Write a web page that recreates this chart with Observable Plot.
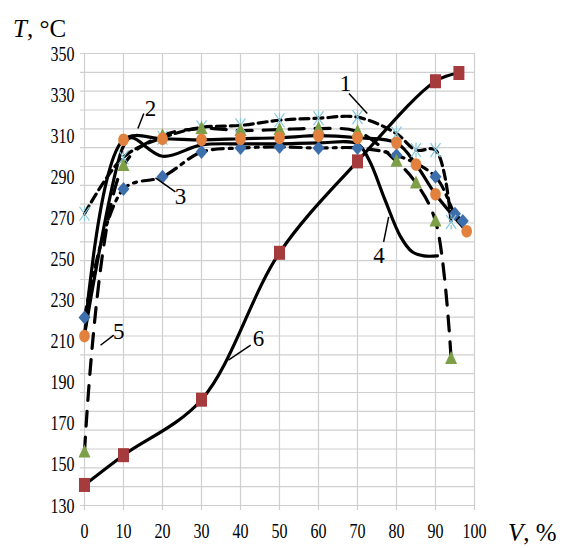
<!DOCTYPE html>
<html>
<head>
<meta charset="utf-8">
<script src="https://cdn.jsdelivr.net/npm/d3@7"></script>
<script src="https://cdn.jsdelivr.net/npm/@observablehq/plot@0.6"></script>
<style>
  body { margin: 0; background: #fff; }
  #chart { width: 562px; height: 548px; }
</style>
</head>
<body>
<div id="chart"></div>
<script>
// ---- axes ----
const xTicks = [0, 10, 20, 30, 40, 50, 60, 70, 80, 90, 100];
const yTicks = [130, 150, 170, 190, 210, 230, 250, 270, 290, 310, 330, 350];
const xDomain = [0, 100];
const yDomain = [130, 350];
const yGridCount = 24; // the reference draws 24 equal grid intervals

// ---- curve 1 (short dash, light-blue star markers) ----
const c1V = [0, 10, 20, 30, 40, 50, 60, 70, 80, 85, 90, 94];
const c1T = [272, 299.5, 309, 314, 315, 317.5, 318.5, 319, 311, 303, 303, 268];

// ---- curve 2 (solid, orange circles) ----
const c2V = [0, 10, 20, 30, 40, 50, 60, 70, 80, 85, 90, 98];
const c2T = [212.5, 308, 308.5, 308, 308.5, 309, 310, 309, 306.5, 296, 281.5, 263.5];

// ---- curve 3 (dash-dot, blue diamonds) ----
const c3V = [0, 10, 20, 30, 40, 50, 60, 70, 80, 90, 95, 97];
const c3T = [221.5, 284, 290, 302, 304, 304.5, 304, 304, 300.5, 290, 272, 268.5];

// ---- curve 4 (solid, no markers) ----
const c4V = [0, 10, 12, 20, 30, 40, 50, 60, 70, 73, 77, 81, 84, 87, 90.5];
const c4T = [213, 305, 309, 300, 305.5, 306, 306, 306.5, 306, 298, 279, 261, 253.5, 251.5, 251.5];

// ---- curve 5 (long dash, green triangles) ----
const c5V = [0, 10, 20, 30, 40, 50, 60, 70, 80, 85, 90, 94];
const c5T = [156, 295.5, 310, 313.5, 312.5, 313, 313.5, 312, 297.5, 287, 268.5, 201.5];

// ---- curve 6 (solid, dark red squares) ----
const c6V = [0, 10, 30, 50, 70, 90, 96];
const c6T = [140, 154.5, 181.5, 253, 297.5, 336.5, 340.5];

// ---- curve number labels and leader lines ----
const labelText = ["1", "2", "3", "4", "5", "6"];
const labelV = [66.9, 16.9, 24.6, 75.5, 8.8, 44.6];
const labelT = [335.3, 323.1, 280.2, 251.8, 214.5, 211.4];
const leadV1 = [67.8, 15.2, 23.3, 76.7, 7.5, 42.6];
const leadT1 = [330.5, 320.8, 282.7, 258.3, 212.9, 208];
const leadV2 = [72.5, 13.7, 18.2, 78, 4.1, 36.9];
const leadT2 = [320.8, 313.5, 289.5, 270.5, 208, 200.8];

// ---- build tables ----
const rows = (vs, ts) => vs.map((v, i) => ({v, t: ts[i]}));
const s1 = rows(c1V, c1T), s2 = rows(c2V, c2T), s3 = rows(c3V, c3T);
const s4 = rows(c4V, c4T), s5 = rows(c5V, c5T), s6 = rows(c6V, c6T);
const labels = labelText.map((text, i) => ({text, v: labelV[i], t: labelT[i]}));
const leaders = labelText.map((_, i) => ({v1: leadV1[i], t1: leadT1[i], v2: leadV2[i], t2: leadT2[i]}));
const gridY = d3.range(yGridCount + 1).map(i => yDomain[0] + i * (yDomain[1] - yDomain[0]) / yGridCount);

// ---- custom (slightly tall) marker shapes ----
const squareSym = {draw(c) { c.rect(-5.5, -7, 11, 14); }};
const diamondSym = {draw(c) { c.moveTo(0, -7); c.lineTo(6, 0); c.lineTo(0, 7); c.lineTo(-6, 0); c.closePath(); }};
const triSym = {draw(c) { c.moveTo(0, -7.5); c.lineTo(6, 5.5); c.lineTo(-6, 5.5); c.closePath(); }};
const ellSym = {draw(c) {
  const rx = 5.3, ry = 6.3, k = 0.5523;
  c.moveTo(rx, 0);
  c.bezierCurveTo(rx, ry * k, rx * k, ry, 0, ry);
  c.bezierCurveTo(-rx * k, ry, -rx, ry * k, -rx, 0);
  c.bezierCurveTo(-rx, -ry * k, -rx * k, -ry, 0, -ry);
  c.bezierCurveTo(rx * k, -ry, rx, -ry * k, rx, 0);
  c.closePath();
}};
const starSym = {draw(c) {
  c.moveTo(-5, -7); c.lineTo(5, 7);
  c.moveTo(-5, 7); c.lineTo(5, -7);
  c.moveTo(0, -7.5); c.lineTo(0, -3);
  c.moveTo(0, 3); c.lineTo(0, 7.5);
}};

const gridColor = "#cfcfcf";
const lineW = 3.2;
const serif = "'Liberation Serif', 'Times New Roman', serif";

const chart = Plot.plot({
  width: 562,
  height: 548,
  marginLeft: 84,
  marginRight: 88,
  marginTop: 53,
  marginBottom: 43,
  style: {fontFamily: serif, fontSize: "16px", background: "#fff", color: "#000"},
  x: {domain: xDomain, ticks: xTicks, tickSize: 0, tickPadding: 19, label: null},
  y: {domain: yDomain, ticks: yTicks, tickSize: 0, tickPadding: 10, label: null},
  marks: [
    Plot.ruleY(gridY, {stroke: gridColor, strokeWidth: 1.2, insetLeft: -4}),
    Plot.ruleX(xTicks, {stroke: gridColor, strokeWidth: 1.2, insetBottom: -5}),
    // lines
    Plot.line(s6, {x: "v", y: "t", curve: "catmull-rom", stroke: "#000", strokeWidth: lineW}),
    Plot.line(s4, {x: "v", y: "t", curve: "catmull-rom", stroke: "#000", strokeWidth: lineW}),
    Plot.line(s3, {x: "v", y: "t", curve: "catmull-rom", stroke: "#000", strokeWidth: lineW, strokeDasharray: "11,6,3,6"}),
    Plot.line(s5, {x: "v", y: "t", curve: "catmull-rom", stroke: "#000", strokeWidth: lineW, strokeDasharray: "15,11"}),
    Plot.line(s1, {x: "v", y: "t", curve: "catmull-rom", stroke: "#000", strokeWidth: lineW, strokeDasharray: "9,5"}),
    Plot.line(s2, {x: "v", y: "t", curve: "catmull-rom", stroke: "#000", strokeWidth: lineW}),
    // markers
    Plot.dot(s3, {x: "v", y: "t", symbol: diamondSym, r: 5, fill: "#3d6fad", stroke: "none"}),
    Plot.dot(s1, {x: "v", y: "t", symbol: starSym, r: 5, fill: "none", stroke: "#84c8dc", strokeWidth: 1.2}),
    Plot.dot(s5, {x: "v", y: "t", symbol: triSym, r: 5, fill: "#7d9f47", stroke: "none"}),
    Plot.dot(s2, {x: "v", y: "t", symbol: ellSym, r: 5, fill: "#e2813e", stroke: "none"}),
    Plot.dot(s6, {x: "v", y: "t", symbol: squareSym, r: 5, fill: "#a53b3c", stroke: "none"}),
    // annotations
    Plot.link(leaders, {x1: "v1", y1: "t1", x2: "v2", y2: "t2", stroke: "#000", strokeWidth: 1.5}),
    Plot.text(labels, {x: "v", y: "t", text: "text", fontSize: 23, fill: "#000"})
  ]
});

document.getElementById("chart").appendChild(chart);

// The reference's tick labels are vertically stretched; reproduce that look.
d3.select(chart).selectAll('g[aria-label*="axis"] text').each(function () {
  const b = this.getBBox();
  const cy = b.y + b.height / 2;
  const tr = this.getAttribute("transform") || "";
  this.setAttribute("transform", `${tr} translate(0,${cy}) scale(1,1.35) translate(0,${-cy})`);
});

// axis titles
const svg = d3.select(chart);
const tTitle = svg.append("text").attr("x", 13).attr("y", 37).attr("text-anchor", "start")
  .attr("font-family", serif).attr("font-size", 25).attr("fill", "#000");
tTitle.append("tspan").attr("font-style", "italic").text("T");
tTitle.append("tspan").text(", °C");
const vTitle = svg.append("text").attr("x", 508).attr("y", 541).attr("text-anchor", "start")
  .attr("font-family", serif).attr("font-size", 25).attr("fill", "#000");
vTitle.append("tspan").attr("font-style", "italic").text("V");
vTitle.append("tspan").text(", %");
</script>
</body>
</html>
